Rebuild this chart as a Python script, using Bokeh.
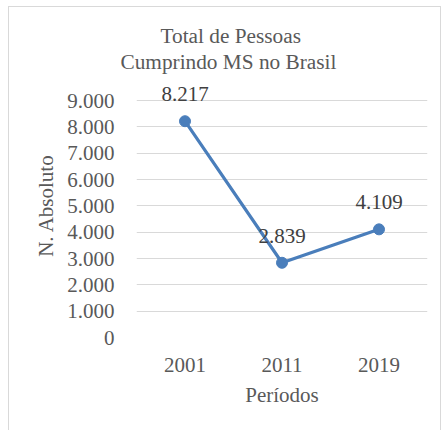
from bokeh.plotting import figure
from bokeh.models import (ColumnDataSource, FactorRange, Range1d, FixedTicker,
                          LabelSet, Title)
from bokeh.embed import file_html
from bokeh.resources import INLINE

periods = ["2001", "2011", "2019"]
values = [8217, 2839, 4109]
value_labels = ["8.217", "2.839", "4.109"]
y_ticks = [0, 1000, 2000, 3000, 4000, 5000, 6000, 7000, 8000, 9000]
y_tick_labels = ["0", "1.000", "2.000", "3.000", "4.000", "5.000",
                 "6.000", "7.000", "8.000", "9.000"]
title_lines = ["Total de Pessoas", "Cumprindo MS no Brasil"]

FONT = "Liberation Serif"
GREY = "#595959"
BLUE = "#4a7ebb"
W, H = 433, 424

p = figure(width=W, height=H, output_backend="svg", toolbar_location=None,
           title_location=None,
           x_range=FactorRange(factors=periods, range_padding=0),
           y_range=Range1d(0, 10030),
           min_border_left=127, min_border_right=15,
           min_border_top=66, min_border_bottom=94,
           margin=(6, 0, 0, 8))
p.styles = {"border-top": "1px solid #d9d9d9", "border-left": "1px solid #d9d9d9",
            "border-right": "1px solid #d9d9d9"}
p.outline_line_color = None
p.background_fill_color = "white"
p.border_fill_color = "white"

src = ColumnDataSource(dict(x=periods, y=values, lab=value_labels))
p.line("x", "y", source=src, line_color=BLUE, line_width=3.2)
p.scatter("x", "y", source=src, size=11, fill_color=BLUE, line_color=BLUE)

p.add_layout(LabelSet(x="x", y="y", text="lab", source=src, y_offset=27,
                      text_align="center", text_baseline="middle",
                      text_font=FONT, text_font_size="21px", text_color="#404040"))

p.yaxis.ticker = FixedTicker(ticks=y_ticks)
p.yaxis.major_label_overrides = {t: l for t, l in zip(y_ticks, y_tick_labels)}
for ax in (p.xaxis, p.yaxis):
    ax.axis_line_color = None
    ax.major_tick_line_color = None
    ax.minor_tick_line_color = None
    ax.major_label_text_font = FONT
    ax.major_label_text_font_size = "21px"
    ax.major_label_text_color = GREY
    ax.axis_label_text_font = FONT
    ax.axis_label_text_font_size = "21px"
    ax.axis_label_text_color = GREY
    ax.axis_label_text_font_style = "normal"
p.yaxis.major_label_standoff = 16
p.xaxis.major_label_standoff = 14
p.xaxis.axis_label = "Períodos"
p.yaxis.axis_label = "N. Absoluto"
p.xaxis.axis_label_standoff = 8
p.yaxis.axis_label_standoff = 6

p.xgrid.grid_line_color = None
p.ygrid.grid_line_color = "#d9d9d9"
p.ygrid.grid_line_width = 1

# second line is nearest the plot, so it is added first
for t, off in [(title_lines[1], -16), (title_lines[0], 24)]:
    p.add_layout(Title(text=t, align="left", offset=off, standoff=0,
                       text_font=FONT, text_font_size="21.3px",
                       text_font_style="normal", text_color=GREY), "above")

open("out.html", "w").write(file_html(p, INLINE))
